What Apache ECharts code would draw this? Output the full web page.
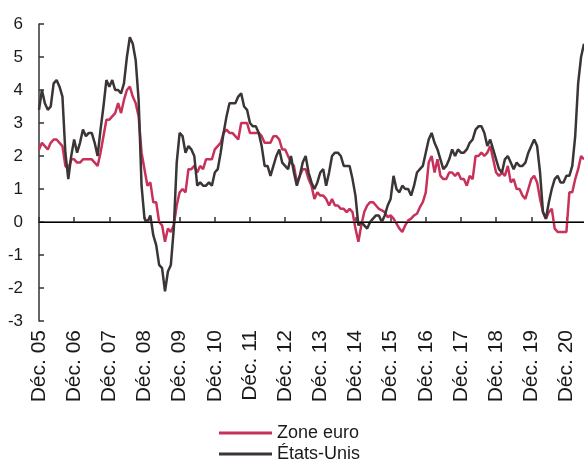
<!DOCTYPE html>
<html>
<head>
<meta charset="utf-8">
<script src="https://cdn.jsdelivr.net/npm/echarts@6/dist/echarts.min.js"></script>
<style>
  html, body { margin: 0; padding: 0; background: #fff; }
  #main { width: 584px; height: 461px; }
</style>
</head>
<body>
<div id="main"></div>
<script>
// mois : de déc. 2005 à juin 2021
var months = [];
for (var y = 2005; y <= 2021; y++) {
  for (var m = 1; m <= 12; m++) {
    if (y === 2005 && m < 12) continue;
    if (y === 2021 && m > 6) break;
    months.push(y + "-" + (m < 10 ? "0" + m : m));
  }
}

var xTickLabels = ["Déc. 05", "Déc. 06", "Déc. 07", "Déc. 08", "Déc. 09", "Déc. 10", "Déc. 11", "Déc. 12",
  "Déc. 13", "Déc. 14", "Déc. 15", "Déc. 16", "Déc. 17", "Déc. 18", "Déc. 19", "Déc. 20"];

var zoneEuro = [
  2.2,
  2.4, 2.3, 2.2, 2.4, 2.5, 2.5, 2.4, 2.3, 1.7, 1.6, 1.9, 1.9,
  1.8, 1.8, 1.9, 1.9, 1.9, 1.9, 1.8, 1.7, 2.1, 2.6, 3.1, 3.1,
  3.2, 3.3, 3.6, 3.3, 3.7, 4.0, 4.1, 3.8, 3.6, 3.2, 2.1, 1.6,
  1.1, 1.2, 0.6, 0.6, 0.0, -0.1, -0.6, -0.2, -0.3, -0.1, 0.5, 0.9,
  1.0, 0.9, 1.6, 1.6, 1.7, 1.5, 1.7, 1.6, 1.9, 1.9, 1.9, 2.2,
  2.3, 2.4, 2.7, 2.8, 2.7, 2.7, 2.6, 2.5, 3.0, 3.0, 3.0, 2.7,
  2.7, 2.7, 2.7, 2.6, 2.4, 2.4, 2.4, 2.6, 2.6, 2.5, 2.2, 2.2,
  2.0, 1.8, 1.7, 1.2, 1.4, 1.6, 1.6, 1.3, 1.1, 0.7, 0.9, 0.8,
  0.8, 0.7, 0.5, 0.7, 0.5, 0.5, 0.4, 0.4, 0.3, 0.4, 0.3, -0.2,
  -0.6, -0.1, 0.3, 0.5, 0.6, 0.6, 0.5, 0.4, 0.35, 0.3, 0.15, 0.2,
  0.1, -0.05, -0.2, -0.3, -0.1, 0.05, 0.1, 0.2, 0.25, 0.45, 0.6, 0.9,
  1.8, 2.0, 1.5, 1.9, 1.4, 1.3, 1.3, 1.5, 1.5, 1.4, 1.5, 1.3,
  1.3, 1.1, 1.4, 1.3, 2.0, 2.0, 2.1, 2.0, 2.1, 2.3, 1.9, 1.5,
  1.4, 1.5, 1.4, 1.7, 1.2, 1.3, 1.0, 1.0, 0.8, 0.7, 1.0, 1.3,
  1.4, 1.2, 0.7, 0.3, 0.1, 0.3, 0.4, -0.2, -0.3, -0.3, -0.3, -0.3,
  0.9, 0.9, 1.3, 1.6, 2.0, 1.9
];

var etatsUnis = [
  3.4,
  4.0, 3.6, 3.4, 3.5, 4.2, 4.3, 4.1, 3.8, 2.1, 1.3, 2.0, 2.5,
  2.1, 2.4, 2.8, 2.6, 2.7, 2.7, 2.4, 2.0, 2.8, 3.5, 4.3, 4.1,
  4.3, 4.0, 4.0, 3.9, 4.2, 5.0, 5.6, 5.4, 4.9, 3.7, 1.1, 0.1,
  0.0, 0.2, -0.4, -0.7, -1.3, -1.4, -2.1, -1.5, -1.3, -0.2, 1.8, 2.7,
  2.6, 2.1, 2.3, 2.2, 2.0, 1.1, 1.2, 1.1, 1.1, 1.2, 1.1, 1.5,
  1.6, 2.1, 2.7, 3.2, 3.6, 3.6, 3.6, 3.8, 3.9, 3.5, 3.4, 3.0,
  2.9, 2.9, 2.7, 2.3, 1.7, 1.7, 1.4, 1.7, 2.0, 2.2, 1.8, 1.7,
  1.6, 2.0, 1.5, 1.1, 1.4, 1.8, 2.0, 1.5, 1.2, 1.0, 1.2, 1.5,
  1.6, 1.1, 1.5, 2.0, 2.1, 2.1, 2.0, 1.7, 1.7, 1.7, 1.3, 0.8,
  -0.1, 0.0, -0.1, -0.2, 0.0, 0.1, 0.2, 0.2, 0.0, 0.2, 0.5, 0.7,
  1.4, 1.0, 0.9, 1.1, 1.0, 1.0, 0.8, 1.1, 1.5, 1.6, 1.7, 2.1,
  2.5, 2.7, 2.4, 2.2, 1.9, 1.6, 1.7, 1.9, 2.2, 2.0, 2.2, 2.1,
  2.1, 2.2, 2.4, 2.5, 2.8, 2.9, 2.9, 2.7, 2.3, 2.5, 2.2, 1.9,
  1.6, 1.5, 1.9, 2.0, 1.8, 1.6, 1.8, 1.7, 1.7, 1.8, 2.1, 2.3,
  2.5, 2.3, 1.5, 0.3, 0.1, 0.6, 1.0, 1.3, 1.4, 1.2, 1.2, 1.4,
  1.4, 1.7, 2.6, 4.2, 5.0, 5.4
];

var myChart = echarts.init(document.getElementById("main"));

function isDec(idx) {
  return idx % 12 === 0;
}

myChart.setOption({
  animation: false,
  textStyle: { fontFamily: "Liberation Sans, Arial, sans-serif" },
  grid: {
    left: 39,
    right: 0,
    top: 24,
    bottom: 140
  },
  legend: {
    orient: "vertical",
    left: 214,
    top: 419,
    height: 80,
    icon: "rect",
    itemWidth: 53,
    itemHeight: 3,
    itemGap: 3,
    textStyle: { fontSize: 18, color: "#1a1a1a" },
    data: ["Zone euro", "États-Unis"]
  },
  xAxis: {
    type: "category",
    boundaryGap: false,
    data: months,
    axisLine: { lineStyle: { color: "#333", width: 1.5 } },
    axisTick: { inside: true, length: 5, interval: isDec, lineStyle: { color: "#333", width: 1.5 } },
    axisLabel: {
      interval: isDec,
      rotate: 90,
      margin: 9,
      fontSize: 21,
      color: "#1a1a1a",
      formatter: function (v, idx) {
        return xTickLabels[idx / 12];
      }
    },
    splitLine: { show: false }
  },
  yAxis: {
    type: "value",
    min: -3,
    max: 6,
    interval: 1,
    axisLine: { show: true, lineStyle: { color: "#333", width: 1.5 } },
    axisTick: { show: true, inside: true, length: 5, lineStyle: { color: "#333", width: 1.5 } },
    axisLabel: { fontSize: 17, color: "#1a1a1a", margin: 16 },
    splitLine: { show: false }
  },
  series: [
    {
      name: "Zone euro",
      type: "line",
      data: zoneEuro,
      symbol: "none",
      lineStyle: { color: "#c8325a", width: 2.5 },
      itemStyle: { color: "#c8325a" },
      markLine: {
        silent: true,
        symbol: ["none", "none"],
        label: { show: false },
        lineStyle: { color: "#000", width: 1, type: "solid" },
        data: [{ yAxis: 0 }]
      }
    },
    {
      name: "États-Unis",
      type: "line",
      data: etatsUnis,
      symbol: "none",
      lineStyle: { color: "#3b3535", width: 2.5 },
      itemStyle: { color: "#3b3535" }
    }
  ]
});
</script>
</body>
</html>
